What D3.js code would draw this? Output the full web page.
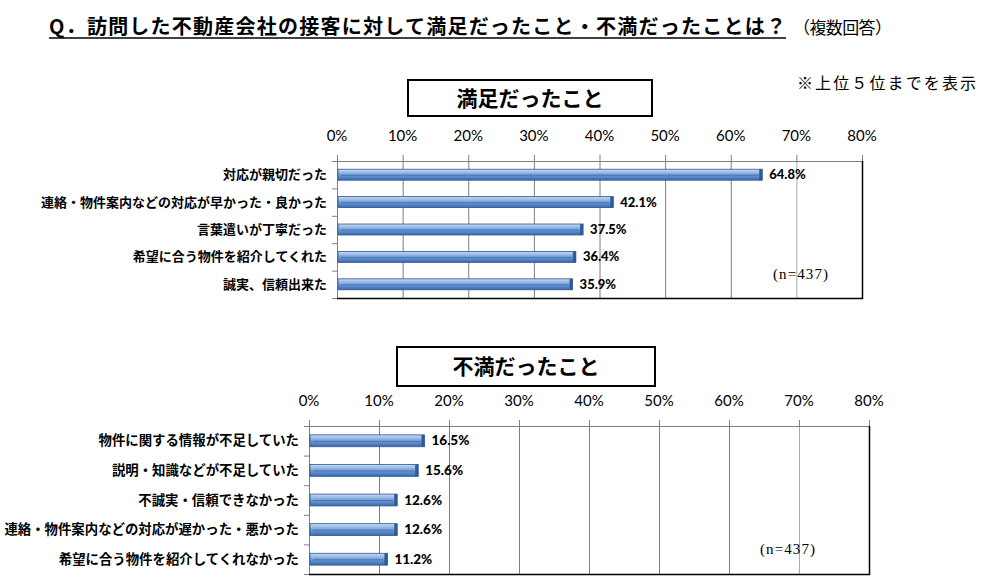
<!DOCTYPE html>
<html><head><meta charset="utf-8">
<script src="https://cdn.jsdelivr.net/npm/d3@7"></script>
<style>
body{margin:0;background:#fff;}
svg{display:block;}
</style></head>
<body>
<svg id="c" width="985" height="587"></svg>
<script>
const titleText = "Q．訪問した不動産会社の接客に対して満足だったこと・不満だったことは？";
const subText = "（複数回答）";
const noteText = "※上位５位までを表示";
const tickValues = [0, 10, 20, 30, 40, 50, 60, 70, 80];
const satisfiedTitle = "満足だったこと";
const satisfiedCats = ["対応が親切だった","連絡・物件案内などの対応が早かった・良かった","言葉遣いが丁寧だった","希望に合う物件を紹介してくれた","誠実、信頼出来た"];
const satisfiedVals = [64.8, 42.1, 37.5, 36.4, 35.9];
const dissatisfiedTitle = "不満だったこと";
const dissatisfiedCats = ["物件に関する情報が不足していた","説明・知識などが不足していた","不誠実・信頼できなかった","連絡・物件案内などの対応が遅かった・悪かった","希望に合う物件を紹介してくれなかった"];
const dissatisfiedVals = [16.5, 15.6, 12.6, 12.6, 11.2];
const nText = "(n=437)";

const svg = d3.select("#c");
const JP = "'Noto Sans CJK JP','Noto Sans',sans-serif";
const NUM = "Lato,'Open Sans',sans-serif";

const defs = svg.append("defs");
const g1 = defs.append("linearGradient").attr("id","barGrad").attr("x1",0).attr("y1",0).attr("x2",0).attr("y2",1);
[[0,"#c9dcf3"],[0.3,"#96b9e6"],[0.6,"#6593d2"],[1,"#3a68ac"]].forEach(([o,c])=>g1.append("stop").attr("offset",o).attr("stop-color",c));

// title
svg.append("text").attr("x",49).attr("y",34).attr("font-family",JP).attr("font-weight",700)
  .attr("font-size",20).attr("fill","#000").attr("textLength",737).attr("lengthAdjust","spacing").text(titleText);
svg.append("line").attr("x1",49).attr("x2",786).attr("y1",38).attr("y2",38).attr("stroke","#000").attr("stroke-width",1.5);
svg.append("text").attr("x",793).attr("y",34).attr("font-family",JP).attr("font-weight",400)
  .attr("font-size",17).attr("fill","#000").attr("textLength",99).attr("lengthAdjust","spacing").text(subText);
svg.append("text").attr("x",797).attr("y",89).attr("font-family",JP).attr("font-weight",400)
  .attr("font-size",16).attr("fill","#000").attr("textLength",179).attr("lengthAdjust","spacing").text(noteText);

function drawChart(opt){
  const {cats, vals, x0, x1, y0, y1, tickY, box, boxTitle, n, labelSize, catSize} = opt;
  const g = svg.append("g");
  const x = d3.scaleLinear().domain([0,80]).range([x0,x1]);
  const y = d3.scaleBand().domain(cats).range([y0,y1]).paddingInner(0.6).paddingOuter(0.3);

  // box title
  g.append("rect").attr("x",box[0]).attr("y",box[1]).attr("width",box[2]).attr("height",box[3])
    .attr("fill","#fff").attr("stroke","#000").attr("stroke-width",2);
  g.append("text").attr("x",box[0]+box[2]/2).attr("y",box[1]+box[3]/2+7.5).attr("text-anchor","middle")
    .attr("font-family",JP).attr("font-weight",700).attr("font-size",21).attr("fill","#000").text(boxTitle);

  // gridlines
  g.selectAll("line.grid").data(tickValues.slice(1,-1)).join("line").attr("class","grid")
    .attr("x1",d=>x(d)+0.5).attr("x2",d=>x(d)+0.5).attr("y1",y0).attr("y2",y1)
    .attr("stroke",(d)=>d===70?"#aaaaaa":"#7f7f7f").attr("stroke-width",1);
  // top axis ticks
  g.selectAll("line.tt").data(tickValues).join("line").attr("class","tt")
    .attr("x1",d=>x(d)+0.5).attr("x2",d=>x(d)+0.5).attr("y1",y0-6).attr("y2",y0)
    .attr("stroke","#7f7f7f");
  // borders
  g.append("line").attr("x1",x0).attr("x2",x1).attr("y1",y0+0.5).attr("y2",y0+0.5).attr("stroke","#7f7f7f");
  g.append("line").attr("x1",x0+0.5).attr("x2",x0+0.5).attr("y1",y0).attr("y2",y1+1).attr("stroke","#7f7f7f");
  g.append("line").attr("x1",x0).attr("x2",x1+1).attr("y1",y1+0.5).attr("y2",y1+0.5).attr("stroke","#000").attr("stroke-width",1.5);
  g.append("line").attr("x1",x1+0.5).attr("x2",x1+0.5).attr("y1",y0).attr("y2",y1+1).attr("stroke","#000").attr("stroke-width",1.5);
  // category ticks
  const bStep = (y1-y0)/cats.length;
  g.selectAll("line.ct").data(d3.range(cats.length+1)).join("line").attr("class","ct")
    .attr("x1",x0-5).attr("x2",x0).attr("y1",i=>y0+i*bStep+0.5).attr("y2",i=>y0+i*bStep+0.5)
    .attr("stroke","#7f7f7f");

  // tick labels
  g.selectAll("text.tl").data(tickValues).join("text").attr("class","tl")
    .attr("x",d=>x(d)).attr("y",tickY+5).attr("text-anchor","middle")
    .attr("font-family",NUM).attr("font-size",15).attr("fill","#000").text(d=>d+"%");

  // category labels
  g.selectAll("text.cl").data(cats).join("text").attr("class","cl")
    .attr("x",x0-10).attr("y",d=>y(d)+y.bandwidth()/2+4.5).attr("text-anchor","end")
    .attr("font-family",JP).attr("font-weight",700).attr("font-size",catSize).attr("fill","#000").text(d=>d);

  // bars
  const data = cats.map((c,i)=>({c, v: vals[i]}));
  const bars = g.selectAll("g.bar").data(data).join("g").attr("class","bar");
  bars.append("rect").attr("x",x0+1).attr("y",d=>y(d.c)).attr("width",d=>x(d.v)-x0-1).attr("height",y.bandwidth())
    .attr("fill","url(#barGrad)").attr("stroke","#2d5593").attr("stroke-width",0.8);
  bars.append("line").attr("x1",x0+4).attr("x2",d=>x(d.v)-4)
    .attr("y1",d=>y(d.c)+y.bandwidth()*0.55).attr("y2",d=>y(d.c)+y.bandwidth()*0.55)
    .attr("stroke","#3f6aa8").attr("stroke-width",0.8);
  bars.append("rect").attr("x",d=>x(d.v)-3).attr("y",d=>y(d.c)).attr("width",3).attr("height",y.bandwidth())
    .attr("fill","#2f5a98");
  bars.append("text").attr("x",d=>x(d.v)+7).attr("y",d=>y(d.c)+y.bandwidth()/2+4.5)
    .attr("font-family",NUM).attr("font-weight",900).attr("font-size",labelSize).attr("fill","#000")
    .text(d=>d.v.toFixed(1)+"%");

  // n
  g.append("text").attr("x",n[0]).attr("y",n[1]).attr("font-family","'Liberation Serif',serif")
    .attr("font-size",15).attr("fill","#000").attr("textLength",55).attr("lengthAdjust","spacing").text(nText);
}

drawChart({cats:satisfiedCats, vals:satisfiedVals, x0:337, x1:862, y0:161, y1:298, tickY:136,
  box:[408,80,244,36], boxTitle:satisfiedTitle, n:[773,279], labelSize:13, catSize:13});
drawChart({cats:dissatisfiedCats, vals:dissatisfiedVals, x0:309, x1:869, y0:426, y1:574, tickY:401,
  box:[397,347,258,39], boxTitle:dissatisfiedTitle, n:[760,554], labelSize:13.5, catSize:13.4});
</script>
</body></html>
